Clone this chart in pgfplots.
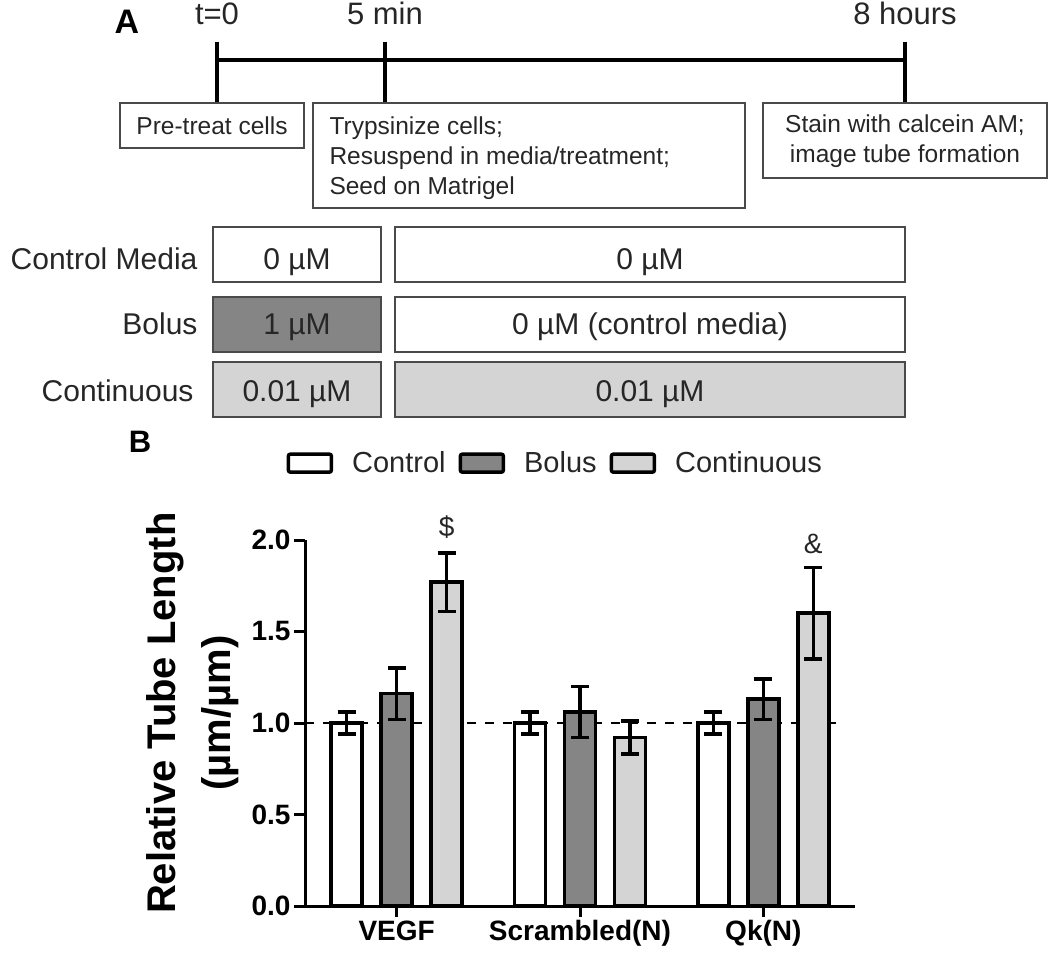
\documentclass[border=0pt]{standalone}
\usepackage{fontspec}
\setmainfont{Liberation Sans}
\usepackage{pgfplots}
\pgfplotsset{compat=1.18}
\definecolor{boxline}{HTML}{4A4A4A}
\definecolor{bolusgray}{HTML}{858585}
\definecolor{contgray}{HTML}{D4D4D4}
\definecolor{txt}{HTML}{262626}
\pgfplotsset{
  errb/.style={error bars/y dir=both, error bars/y explicit,
    error bars/error mark=|,
    error bars/error bar style={line width=3.5pt, black},
    error bars/error mark options={line width=3.5pt, black, mark size=9pt}},
  tubebar/.style={ybar, bar width=31pt, bar shift=0pt, draw=black, line width=3.5pt, forget plot, errb},
}
\newcommand{\fs}[1]{\fontsize{#1}{#1}\selectfont}

\begin{document}
\begin{tikzpicture}
\begin{scope}[x=1pt,y=-1pt]
\useasboundingbox (0,0) rectangle (1050,957);

% ---- panel A: timeline
\node[font=\bfseries\fs{34}] at (127,22) {A};
\draw[line width=3.5pt] (217,60) -- (905,60);
\foreach \t in {217,385,905} \draw[line width=3.5pt] (\t,42) -- (\t,103);
\begin{scope}[font=\fs{31}, text=txt]
\node[anchor=base] at (217,25) {t=0};
\node[anchor=base] at (385,25) {5 min};
\node[anchor=base] at (905,25) {8 hours};
\end{scope}

\begin{scope}[font=\fs{24.5}, text=txt]
\draw[boxline, line width=1.5pt] (120,103) rectangle (304,148);
\node[anchor=base] at (212,135) {Pre-treat cells};
\draw[boxline, line width=1.5pt] (313,103) rectangle (745,208);
\node[anchor=base west] at (326,135) {Trypsinize cells;};
\node[anchor=base west] at (326,165) {Resuspend in media/treatment;};
\node[anchor=base west] at (326,195) {Seed on Matrigel};
\draw[boxline, line width=1.5pt] (763,103) rectangle (1047,178);
\node[anchor=base] at (905,133) {Stain with calcein AM;};
\node[anchor=base] at (905,163) {image tube formation};
\end{scope}

% ---- panel A: treatment rows
\begin{scope}[font=\fs{30}, text=txt]
\node[anchor=base east] at (201,270) {Control Media};
\draw[boxline, line width=1.5pt] (213,227) rectangle (381,282);
\node[anchor=base] at (297,270) {0 µM};
\draw[boxline, line width=1.5pt] (395,227) rectangle (905,282);
\node[anchor=base] at (650,270) {0 µM};

\node[anchor=base east] at (201,335) {Bolus};
\draw[boxline, fill=bolusgray, line width=1.5pt] (213,297) rectangle (381,352);
\node[anchor=base] at (297,335) {1 µM};
\draw[boxline, line width=1.5pt] (395,297) rectangle (905,352);
\node[anchor=base] at (650,335) {0 µM (control media)};

\node[anchor=base east] at (197,402) {Continuous};
\draw[boxline, fill=contgray, line width=1.5pt] (213,362) rectangle (381,417);
\node[anchor=base] at (297,402) {0.01 µM};
\draw[boxline, fill=contgray, line width=1.5pt] (395,362) rectangle (905,417);
\node[anchor=base] at (650,402) {0.01 µM};
\end{scope}

% ---- panel B label
\node[font=\bfseries\fs{31}] at (140,442) {B};
\end{scope}

% groups at 0,1,2; bars sit 0.2727 (50pt) either side of the group centre
\begin{axis}[
  at={(305pt,-906pt)}, anchor=south west,
  scale only axis, width=550pt, height=366pt,
  xmin=-0.5, xmax=2.5, ymin=0, ymax=2,
  clip=false,
  axis x line*=bottom, axis y line*=left,
  axis line style={line width=3pt, black},
  tick align=outside, major tick length=11pt,
  tick style={line width=3pt, black},
  xtick={0,1,2}, xticklabels={VEGF,Scrambled(N),Qk(N)},
  ytick={0,0.5,1,1.5,2},
  /pgf/number format/assume math mode=true,
  tick label style={font=\bfseries\fs{28}, text=black},
  yticklabel style={/pgf/number format/.cd, fixed, fixed zerofill, precision=1},
  ylabel={Relative Tube Length\\(µm/µm)},
  ylabel style={at={(axis description cs:-0.205,0.527)}, anchor=center, align=center,
    font=\bfseries\fontsize{40}{55}\selectfont},
  legend image code/.code={\draw[line width=3.5pt, rounded corners=2pt, #1] (0pt,-9pt) rectangle (43pt,9pt);},
  legend style={at={(0.455,1.21)}, anchor=center, draw=none, fill=none,
    legend columns=-1, font=\fs{29}, text=txt,
    /tikz/every odd column/.append style={column sep=17pt},
    /tikz/every even column/.append style={column sep=11pt}},
]
\addplot[black, line width=2.5pt, dash pattern=on 9pt off 9pt, mark=none, forget plot]
  coordinates {(-0.5,1) (2.43,1)};

\addplot[tubebar, fill=white] coordinates {
  (-0.2727,1.00) +- (0,0.06)
  (0.7273,1.00) +- (0,0.06)
  (1.7273,1.00) +- (0,0.06)
};
\addplot[tubebar, fill=bolusgray] coordinates {
  (0,1.16) +- (0,0.14)
  (1,1.06) +- (0,0.14)
  (2,1.13) +- (0,0.11)
};
\addplot[tubebar, fill=contgray] coordinates {
  (0.2727,1.77) +- (0,0.16)
  (1.2727,0.92) +- (0,0.09)
  (2.2727,1.60) +- (0,0.25)
};

\addlegendimage{fill=white}
\addlegendimage{fill=bolusgray}
\addlegendimage{fill=contgray}
\legend{Control,Bolus,Continuous}

\node[font=\fs{28}, text=txt] at (axis cs:0.2727,2.07) {\$};
\node[font=\fs{28}, text=txt] at (axis cs:2.2727,1.98) {\&};
\end{axis}
\end{tikzpicture}
\end{document}
